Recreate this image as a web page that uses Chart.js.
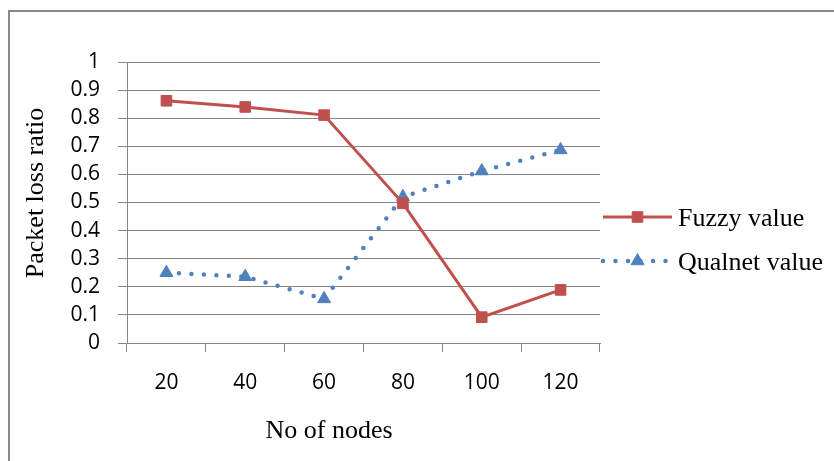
<!DOCTYPE html>
<html><head><meta charset="utf-8">
<script src="https://cdn.jsdelivr.net/npm/chart.js@4.4.0/dist/chart.umd.min.js"></script>
<style>
html,body{margin:0;padding:0;background:#fff;overflow:hidden}
#wrap{position:relative;width:834px;height:461px;background:#fff}
#frame{position:absolute;left:8px;top:10px;width:900px;height:600px;border-left:2px solid #8a8a8a;border-top:2px solid #8a8a8a;pointer-events:none}
canvas{position:absolute;left:0;top:0}
</style></head>
<body><div id="wrap"><canvas id="c" style="width:834px;height:461px"></canvas><div id="frame"></div></div>
<script>
const categories = ['20','40','60','80','100','120'];
const fuzzyValues = [0.862, 0.84, 0.811, 0.497, 0.092, 0.189];
const qualnetValues = [0.25, 0.236, 0.157, 0.52, 0.612, 0.687];
const yTicks = [0,0.1,0.2,0.3,0.4,0.5,0.6,0.7,0.8,0.9,1];
const seriesNames = ['Fuzzy value','Qualnet value'];
const xTitle = 'No of nodes';
const yTitle = 'Packet loss ratio';

const RED = '#C0504D', BLUE = '#4F81BD', GRID = '#868686';
const serif = '"Liberation Serif", "Times New Roman", serif';

const extras = {
  id: 'extras',
  afterDraw(chart) {
    const ctx = chart.ctx;
    ctx.save();
    ctx.fillStyle = '#000';
    ctx.font = '26px ' + serif;
    ctx.textBaseline = 'alphabetic';
    ctx.textAlign = 'center';
    ctx.fillText(xTitle, 329, 438);
    ctx.save();
    ctx.translate(43, 193);
    ctx.rotate(-Math.PI/2);
    ctx.fillText(yTitle, 0, 0);
    ctx.restore();
    // legend
    const items = chart.data.datasets;
    const ys = [217, 261];
    items.forEach((ds, i) => {
      const y = ys[i];
      ctx.save();
      ctx.strokeStyle = ds.borderColor;
      ctx.lineWidth = ds.borderWidth;
      ctx.lineCap = ds.borderCapStyle || 'butt';
      ctx.setLineDash(ds.borderDash || []);
      ctx.beginPath();
      ctx.moveTo(603, y); ctx.lineTo(672, y);
      ctx.stroke();
      ctx.restore();
      ctx.save();
      ctx.fillStyle = ds.pointBackgroundColor;
      ctx.strokeStyle = ds.pointBorderColor;
      ctx.lineWidth = 1;
      Chart.helpers.drawPoint(ctx, {pointStyle: ds.pointStyle, radius: ds.pointRadius, borderWidth: 1, rotation: 0}, 637.5, y);
      ctx.restore();
      ctx.fillStyle = '#000';
      ctx.textAlign = 'left';
      ctx.font = '26px ' + serif;
      ctx.fillText(ds.label, 678, y + 9);
    });
    ctx.restore();
  }
};

new Chart(document.getElementById('c'), {
  type: 'line',
  data: {
    labels: categories,
    datasets: [
      { label: seriesNames[0], data: fuzzyValues, borderColor: RED, backgroundColor: RED,
        borderWidth: 3, pointStyle: 'rect', pointRadius: 7.5, pointBackgroundColor: RED,
        pointBorderColor: RED, pointBorderWidth: 1, tension: 0, fill: false },
      { label: seriesNames[1], data: qualnetValues, borderColor: BLUE, backgroundColor: BLUE,
        borderWidth: 4.5, borderDash: [0, 12.5], borderCapStyle: 'round',
        pointStyle: 'triangle', pointRadius: 7.5, pointBackgroundColor: BLUE,
        pointBorderColor: BLUE, pointBorderWidth: 1, tension: 0, fill: false }
    ]
  },
  options: {
    responsive: false,
    animation: false,
    layout: { padding: { left: 0, right: 234, top: 62, bottom: 0 } },
    plugins: { legend: { display: false }, tooltip: { enabled: false } },
    scales: {
      x: {
        offset: true,
        grid: { display: true, drawOnChartArea: false, drawTicks: true, tickLength: 9, color: GRID, offset: true },
        border: { color: GRID, width: 1 },
        ticks: { color: '#000', font: { family: '"Open Sans", sans-serif', size: 21 }, padding: 18, maxRotation: 0, autoSkip: false },
        afterFit(s) { s.height = 461 - 343; }
      },
      y: {
        min: 0, max: 1,
        afterBuildTicks(s) { s.ticks = yTicks.map(v => ({ value: v })); },
        grid: { color: GRID, tickLength: 9, lineWidth: 1 },
        border: { color: GRID, width: 1 },
        ticks: { color: '#000', font: { family: '"Open Sans", sans-serif', size: 21 }, padding: 18, autoSkip: false,
                 callback: v => String(Math.round(v*10)/10) },
        afterFit(s) { s.width = 127; }
      }
    }
  },
  plugins: [extras]
});
</script>
</body></html>
